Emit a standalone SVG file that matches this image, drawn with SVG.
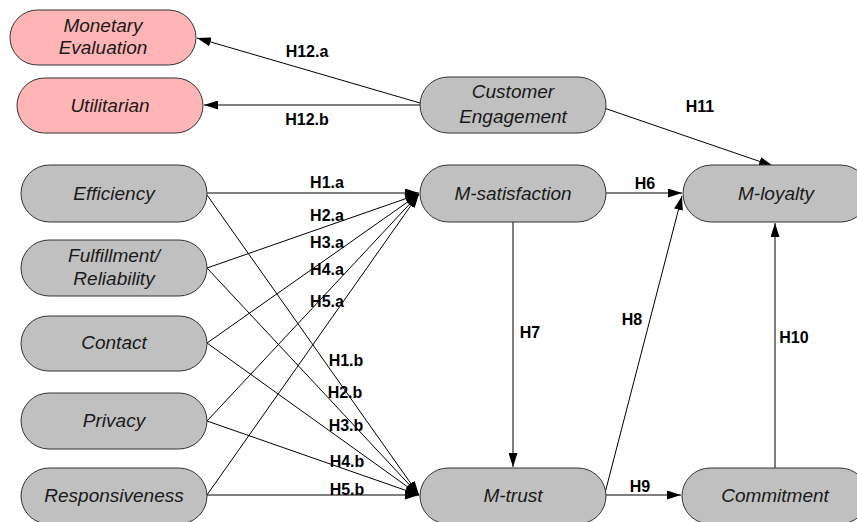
<svg xmlns="http://www.w3.org/2000/svg" width="857" height="522" viewBox="0 0 857 522">
<style>
.n rect{fill:#c0c0c0;stroke:#333;stroke-width:1}
.n.p rect{fill:#ffb5b5}
.n text{font-family:"Liberation Sans",Arial,sans-serif;font-style:italic;font-size:19px;fill:#1a1a1a;text-anchor:middle}
.c line{stroke:#000;stroke-width:1;marker-end:url(#ah)}
.l text{font-family:"Liberation Sans",Arial,sans-serif;font-weight:bold;font-size:16px;fill:#000;text-anchor:middle}
</style>
<defs>
<marker id="ah" markerUnits="userSpaceOnUse" markerWidth="14" markerHeight="9" refX="14" refY="4.5" orient="auto">
<path d="M0,0 L14,4.5 L0,9 z" fill="#000"/>
</marker>
</defs>
<rect width="857" height="522" fill="#fff"/>
<g class="c">
<line x1="420" y1="103" x2="197" y2="38"/>
<line x1="420" y1="105" x2="204" y2="105"/>
<line x1="604" y1="108" x2="773" y2="166"/>
<line x1="606" y1="193" x2="682" y2="193"/>
<line x1="513" y1="222" x2="513" y2="467"/>
<line x1="605" y1="493" x2="682" y2="196"/>
<line x1="606" y1="495" x2="681" y2="495"/>
<line x1="775" y1="468" x2="775" y2="223"/>
<line x1="207" y1="193" x2="419" y2="193"/>
<line x1="207" y1="268" x2="419" y2="194"/>
<line x1="207" y1="343" x2="419" y2="194"/>
<line x1="207" y1="421" x2="419" y2="194"/>
<line x1="207" y1="495" x2="419" y2="194"/>
<line x1="207" y1="195" x2="419" y2="495"/>
<line x1="207" y1="268" x2="419" y2="495"/>
<line x1="207" y1="343" x2="419" y2="495"/>
<line x1="207" y1="421" x2="419" y2="495"/>
<line x1="207" y1="495" x2="419" y2="495"/>
</g>
<g class="n p" id="monetary"><rect x="10" y="10" width="186" height="55" rx="27.5"/><text x="103" y="32">Monetary</text><text x="103" y="54">Evaluation</text></g>
<g class="n p" id="utilitarian"><rect x="17" y="78" width="186" height="55" rx="27.5"/><text x="110" y="112">Utilitarian</text></g>
<g class="n" id="engagement"><rect x="420" y="77" width="186" height="56" rx="28"/><text x="513" y="98">Customer</text><text x="513" y="123">Engagement</text></g>
<g class="n" id="msat"><rect x="420" y="165" width="186" height="57" rx="28.5"/><text x="513" y="200">M-satisfaction</text></g>
<g class="n" id="mloy"><rect x="683" y="165" width="186" height="57" rx="28.5"/><text x="776" y="200">M-loyalty</text></g>
<g class="n" id="eff"><rect x="21" y="165" width="186" height="57" rx="28.5"/><text x="114" y="200">Efficiency</text></g>
<g class="n" id="ful"><rect x="21" y="240" width="186" height="56" rx="28"/><text x="114" y="262">Fulfillment/</text><text x="114" y="285">Reliability</text></g>
<g class="n" id="con"><rect x="21" y="316" width="186" height="55" rx="27.5"/><text x="114" y="349">Contact</text></g>
<g class="n" id="pri"><rect x="21" y="393" width="186" height="56" rx="28"/><text x="114" y="427">Privacy</text></g>
<g class="n" id="res"><rect x="21" y="468" width="186" height="56" rx="28"/><text x="114" y="502">Responsiveness</text></g>
<g class="n" id="mtrust"><rect x="420" y="468" width="186" height="56" rx="28"/><text x="513" y="502">M-trust</text></g>
<g class="n" id="com"><rect x="682" y="468" width="186" height="56" rx="28"/><text x="775" y="502">Commitment</text></g>
<g class="l">
<text x="307" y="57">H12.a</text>
<text x="307" y="125">H12.b</text>
<text x="700" y="112">H11</text>
<text x="645" y="189">H6</text>
<text x="530" y="338">H7</text>
<text x="632" y="325">H8</text>
<text x="640" y="492">H9</text>
<text x="794" y="343">H10</text>
<text x="327" y="188">H1.a</text>
<text x="327" y="221">H2.a</text>
<text x="327" y="248">H3.a</text>
<text x="327" y="275">H4.a</text>
<text x="327" y="307">H5.a</text>
<text x="346" y="366">H1.b</text>
<text x="345" y="398">H2.b</text>
<text x="346" y="431">H3.b</text>
<text x="347" y="467">H4.b</text>
<text x="347" y="495">H5.b</text>
</g>
</svg>
